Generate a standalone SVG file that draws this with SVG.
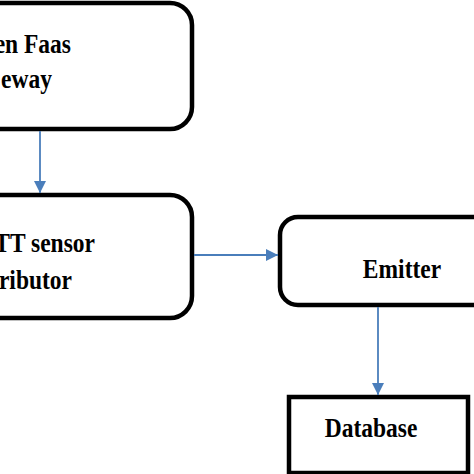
<svg xmlns="http://www.w3.org/2000/svg" width="474" height="474" viewBox="0 0 474 474">
<style>
.box{fill:#fff;stroke:#000;stroke-width:4.5}
.t{font-family:"Liberation Serif","Times New Roman",serif;font-weight:bold;font-size:23.5px;fill:#000}
.c{stroke:#4a7ebb;stroke-width:1.8;fill:none}
</style>
<defs>
<marker id="ah" viewBox="0 0 10 10" refX="10" refY="5" markerWidth="12" markerHeight="12" markerUnits="userSpaceOnUse" orient="auto">
<path d="M0,0 L10,5 L0,10 z" fill="#4a7ebb"/>
</marker>
</defs>
<rect width="474" height="474" fill="#fff"/>
<g id="gateway">
<rect class="box" x="-40" y="3" width="232" height="126" rx="22"/>
<text class="t" transform="translate(71,53) scale(1,1.13)" text-anchor="end">en Faas</text>
<text class="t" transform="translate(52,88) scale(1,1.13)" text-anchor="end">eway</text>
</g>
<g id="distributor">
<rect class="box" x="-40" y="195" width="232" height="123" rx="22"/>
<text class="t" transform="translate(95,252) scale(1,1.13)" text-anchor="end">TT sensor</text>
<text class="t" transform="translate(72,289) scale(1,1.13)" text-anchor="end">ributor</text>
</g>
<g id="emitter">
<rect class="box" x="280" y="217" width="230" height="88" rx="18"/>
<text class="t" transform="translate(402,278) scale(1,1.15)" text-anchor="middle">Emitter</text>
</g>
<g id="database">
<rect class="box" x="289" y="397" width="179" height="76"/>
<text class="t" transform="translate(371,437) scale(1,1.18)" text-anchor="middle">Database</text>
</g>
<g id="connectors">
<line class="c" x1="40" y1="131" x2="40" y2="193" marker-end="url(#ah)"/>
<line class="c" x1="194" y1="255" x2="278" y2="255" marker-end="url(#ah)"/>
<line class="c" x1="378" y1="307" x2="378" y2="395" marker-end="url(#ah)"/>
</g>
</svg>
